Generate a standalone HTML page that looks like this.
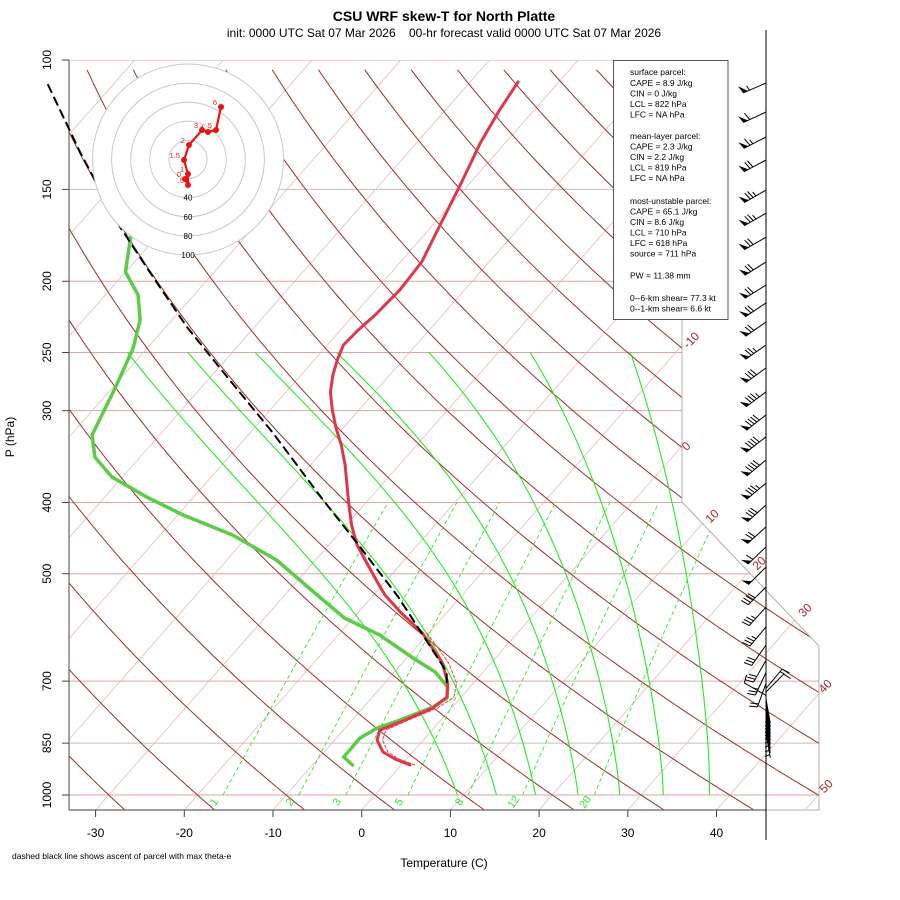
<!DOCTYPE html>
<html><head><meta charset="utf-8"><title>CSU WRF skew-T North Platte</title>
<style>
html,body{margin:0;padding:0;background:#fff;}
svg{display:block;font-family:"Liberation Sans",Arial,sans-serif;}
</style></head>
<body>
<svg id="chart" width="900" height="900" viewBox="0 0 900 900" xmlns="http://www.w3.org/2000/svg">
<rect x="0" y="0" width="900" height="900" fill="#fff"/>
<defs><clipPath id="plotclip"><polygon points="69,60 682,60 682,502 819,646 819,810 69,810"/></clipPath></defs>
<text x="444" y="21" font-size="14" font-weight="bold" text-anchor="middle">CSU WRF skew-T for North Platte</text>
<text x="444" y="37" font-size="12" text-anchor="middle" xml:space="preserve">init: 0000 UTC Sat 07 Mar 2026    00-hr forecast valid 0000 UTC Sat 07 Mar 2026</text>
<text x="0" y="0" font-size="12" text-anchor="middle" transform="translate(14,437) rotate(-90)">P (hPa)</text>
<text x="444" y="867" font-size="12" text-anchor="middle">Temperature (C)</text>
<text x="12" y="859" font-size="8.5">dashed black line shows ascent of parcel with max theta-e</text>
<g id="grid" clip-path="url(#plotclip)"></g>
<g id="axes"></g>
<g id="data"></g>
<g id="barbs"></g>
<g id="hodo"></g>
<g id="info"></g>
</svg>
<script>
// ---- sounding data ----
const tempP=[107.1,117,129.7,147.9,167.7,188.3,205.6,222.3,233,244.2,255.9,268.3,282.9,299.3,316.7,334.2,355.6,378.6,403.1,429.4,457.1,479,506.8,534.5,563.6,602.1,661.2,704.1,735.8,761.5,795.8,816,842,874,893.4,910.4];
const tempC=[-54.6,-53.9,-52.8,-50.9,-49.2,-47.6,-47.3,-47.6,-48.0,-48.2,-47.4,-46.4,-45.0,-43.0,-40.8,-38.5,-36.1,-33.9,-31.7,-29.4,-26.8,-24.4,-21.5,-18.7,-15.3,-10.7,-5.5,-2.9,-1.6,-2.1,-4.4,-5.9,-5.2,-3.35,-1.3,1.0];
const dewP=[174.1,194.3,208.8,225.8,246.5,276.8,323.7,346.9,369.3,393.2,415.9,443,479,542.9,574.3,605.9,651,680.3,713.1,737.9,759.2,790.7,810.9,836.6,868.5,887.8,910.4];
const dewC=[-82.9,-80.0,-76.3,-73.6,-71.6,-69.8,-67.6,-65.1,-61.2,-55.3,-49.4,-41.8,-34.4,-25.2,-21.0,-15.3,-9.3,-5.4,-2.5,-1.5,-2.2,-4.6,-6.4,-7.35,-7.3,-7.3,-5.5];
const virtP=[602,661,704,736,762,796,816,842,874,893,910];
const virtC=[-10.2,-4.8,-1.9,-0.8,-1.6,-4.0,-5.2,-4.6,-2.8,-0.9,1.5];
const parcelP=[108.1,133.8,168.7,194.9,230.9,270,321.7,396.9,454.2,537.8,680.3,711];
const parcelC=[-107.3,-96.9,-85.1,-77.1,-67.6,-58.1,-47.4,-35.1,-27.0,-17.0,-4.1,-2.7];
// ---- winds ----
const windP=[107.5,117.7,127.3,136.8,150.3,161.6,174.2,188.3,202.4,214,227.2,244.2,262.4,282.8,304,325.6,350,376.4,403.1,431.7,459.6,489.5,521.1,555,590.6,625,656,681,705,716,724,732,740,748,756,764,772,780,790,800,812,824];
const windSpd=[55,60,65,70,75,75,70,70,70,70,70,75,80,85,90,90,90,85,80,70,60,50,40,35,35,30,30,25,20,15,10,10,5,5,5,5,5,5,5,5,5,5];
const windDir=[247,245,243,242,240,240,240,238,238,236,235,235,234,233,232,232,230,230,228,228,226,225,225,222,220,215,210,205,200,40,45,300,170,170,170,170,170,170,170,170,170,170];
// ---- hodograph ----
const hodoU=[-3.1,0,0,-4.2,1.0,14.7,20.9,29.3,34.6];
const hodoV=[-20.4,-26.7,-15.2,-0.5,15.2,30.9,28.8,30.9,55.0];
const hodoLbl=["0",".5","1","1.5","2","3","4","5","6"];
const hodoRings=[20,40,60,80,100];
// ---- reference lines ----
const pLevels=[100,150,200,250,300,400,500,700,850,1000];
const tTicks=[-30,-20,-10,0,10,20,30,40];
const mixRatios=[1,2,3,5,8,12,20];
const moistT0=[9.3,13.7,18.1,22.9,27.6,32.5,37.7];
const moistT250=[-71.8,-65.0,-57.4,-48.2,-37.8,-26.4,-15.1];
const isoLabels=[-10,0,10,20,30,40,50];

const NS="http://www.w3.org/2000/svg";
function mk(tag,parent){const e=document.createElementNS(NS,tag);parent.appendChild(e);return e;}
function yP(p){return 60+735*Math.log10(p/100);}
function xT(T,p){return 361.7+8.87*T+0.88*(810-yP(p));}
function pOfY(y){return 100*Math.pow(10,(y-60)/735);}
function d(pts){return pts.map((q,i)=>(i?"L":"M")+q[0].toFixed(1)+","+q[1].toFixed(1)).join("");}

const grid=document.getElementById('grid');
const axes=document.getElementById('axes');
const dataG=document.getElementById('data');
const barbsG=document.getElementById('barbs');
const hodoG=document.getElementById('hodo');
const infoG=document.getElementById('info');

pLevels.forEach(p=>{
  const l=mk('line',grid);
  
  
  l.setAttribute('x1',69);l.setAttribute('x2',820);l.setAttribute('y1',yP(p));l.setAttribute('y2',yP(p));
  l.setAttribute('stroke',(p==150||p==850)?'#c8c0c0':'#dca6a6');l.setAttribute('stroke-width','1');
});
const pBot=pOfY(810);
for(let T=-120;T<=50;T+=10){
  const l=mk('line',grid);
  
  
  l.setAttribute('x1',xT(T,pBot));l.setAttribute('y1',810);l.setAttribute('x2',xT(T,100));l.setAttribute('y2',60);
  l.setAttribute('stroke','#e8baba');l.setAttribute('stroke-width','0.8');
}
for(let th=-30;th<=200;th+=10){
  const pts=[];
  for(let p=pBot;p>=100;p-=5){const T=(th+273.15)*Math.pow(p/1000,0.286)-273.15;pts.push([xT(T,p),yP(p)]);}
  const e=mk('path',grid);
  
  
  e.setAttribute('d',d(pts));e.setAttribute('fill','none');e.setAttribute('stroke','#a52a2a');e.setAttribute('stroke-width','1');
}
mixRatios.forEach(w=>{
  const pts=[];
  for(let p=1000;p>=400;p-=10){const e=w*p/(622+w);const ln=Math.log(e/6.112);const Td=243.5*ln/(17.67-ln);pts.push([xT(Td,p),yP(p)]);}
  const e=mk('path',grid);
  
  
  e.setAttribute('d',d(pts));e.setAttribute('fill','none');e.setAttribute('stroke','#22ee22');e.setAttribute('stroke-width','0.9');e.setAttribute('stroke-dasharray','4,3');
  const t=mk('text',grid);
  
  
  const lx=pts[0][0]-6, ly=804;
  t.setAttribute('x',lx);t.setAttribute('y',ly);t.setAttribute('font-size','11');t.setAttribute('fill','#22ee22');t.setAttribute('text-anchor','middle');
  t.setAttribute('transform','rotate(-55 '+lx+' '+ly+')');t.textContent=w;
});
moistT0.forEach((T0,k)=>{
  let T=T0+273.15;const raw=[];
  for(let p=1000;p>=250;p-=5){
    raw.push([p,T-273.15]);
    const es=6.112*Math.exp(17.67*(T-273.15)/(T-29.65));const rs=0.622*es/(p-es);const Lv=2.501e6;
    const dTdl=(287.04*T+Lv*rs)/(1005.7+Lv*Lv*rs*0.622/(287.04*T*T));
    T+=dTdl*Math.log((p-5)/p);
  }
  const corr=moistT250[k]-raw[raw.length-1][1];
  const pts=raw.map(q=>{const f=Math.log(1000/q[0])/Math.log(4);return [xT(q[1]+corr*Math.pow(f,1.3),q[0]),yP(q[0])];});
  const e=mk('path',grid);
  
  
  e.setAttribute('d',d(pts));e.setAttribute('fill','none');e.setAttribute('stroke','#22ee22');e.setAttribute('stroke-width','1.1');
});
{const e=mk('polyline',axes);


e.setAttribute('points','682,60 682,502 819,646 819,810 69,810');e.setAttribute('fill','none');e.setAttribute('stroke','#b0b0b0');e.setAttribute('stroke-width','1');}
const isoPos=[[694,343],[689,449],[715,519],[762,566],[808,613],[828,689],[829,789]];
isoLabels.forEach((v,i)=>{
  const t=mk('text',axes);
  
  
  t.setAttribute('x',isoPos[i][0]);t.setAttribute('y',isoPos[i][1]);t.setAttribute('font-size','12');t.setAttribute('fill','#b22222');t.setAttribute('text-anchor','middle');
  t.setAttribute('transform','rotate(-45 '+isoPos[i][0]+' '+isoPos[i][1]+')');t.textContent=v;
});
{const l=mk('line',axes);


l.setAttribute('x1',69);l.setAttribute('x2',69);l.setAttribute('y1',60);l.setAttribute('y2',810);l.setAttribute('stroke','#666');l.setAttribute('stroke-width','1.2');}
pLevels.forEach(p=>{
  const tk=mk('line',axes);
  
  
  tk.setAttribute('x1',62);tk.setAttribute('x2',69);tk.setAttribute('y1',yP(p));tk.setAttribute('y2',yP(p));tk.setAttribute('stroke','#444');
  const t=mk('text',axes);
  
  
  const y=yP(p);
  t.setAttribute('x',0);t.setAttribute('y',0);t.setAttribute('font-size','12');t.setAttribute('text-anchor','middle');
  t.setAttribute('transform','translate(51,'+y+') rotate(-90)');t.textContent=p;
});
{const l=mk('line',axes);


l.setAttribute('x1',69);l.setAttribute('x2',766);l.setAttribute('y1',810);l.setAttribute('y2',810);l.setAttribute('stroke','#666');l.setAttribute('stroke-width','1.2');}
tTicks.forEach(T=>{
  const x=xT(T,pBot);
  const tk=mk('line',axes);
  
  
  tk.setAttribute('x1',x);tk.setAttribute('x2',x);tk.setAttribute('y1',810);tk.setAttribute('y2',817);tk.setAttribute('stroke','#444');
  const t=mk('text',axes);
  
  
  t.setAttribute('x',x);t.setAttribute('y',837);t.setAttribute('font-size','12');t.setAttribute('text-anchor','middle');t.textContent=T;
});
function trace(P,C,name,color,w,dash){
  const e=mk('path',dataG);
  
  
  e.setAttribute('d',d(P.map((p,i)=>[xT(C[i],p),yP(p)])));
  e.setAttribute('fill','none');e.setAttribute('stroke',color);e.setAttribute('stroke-width',w);e.setAttribute('stroke-linejoin','round');e.setAttribute('stroke-linecap','round');
  if(dash)e.setAttribute('stroke-dasharray',dash);
}
trace(dewP,dewC,'dewpoint-line','#5ccc48',3.5);
trace(virtP,virtC,'virtual-temperature-line','#ee4444',1,'3,2');
trace(tempP,tempC,'temperature-line','#e0364c',3);
trace(parcelP,parcelC,'parcel-ascent-line','#000',2,'8,6');
{const l=mk('line',barbsG);


l.setAttribute('x1',766);l.setAttribute('x2',766);l.setAttribute('y1',30);l.setAttribute('y2',840);l.setAttribute('stroke','#000');l.setAttribute('stroke-width','1');}
windP.forEach((p,i)=>{
  const ax=766, ay=yP(p), dr=windDir[i]*Math.PI/180, L=25;
  const ux=Math.sin(dr), uy=-Math.cos(dr);
  const px=-uy, py=ux;
  const tx=ax+L*ux, ty=ay+L*uy;
  const g=mk('g',barbsG);
  
  
  let s='M'+ax+','+ay.toFixed(1)+'L'+tx.toFixed(1)+','+ty.toFixed(1);
  let sp=Math.round(windSpd[i]/5)*5, pos=0, fill='';
  while(sp>=50){
    const bx=tx-pos*ux, by=ty-pos*uy;
    fill+='M'+bx.toFixed(1)+','+by.toFixed(1)+'L'+(bx+8*px+2*ux).toFixed(1)+','+(by+8*py+2*uy).toFixed(1)+'L'+(bx-5*ux).toFixed(1)+','+(by-5*uy).toFixed(1)+'Z';
    pos+=7;sp-=50;
  }
  while(sp>=10){
    const bx=tx-pos*ux, by=ty-pos*uy;
    s+='M'+bx.toFixed(1)+','+by.toFixed(1)+'L'+(bx+8*px+2*ux).toFixed(1)+','+(by+8*py+2*uy).toFixed(1);
    pos+=3.2;sp-=10;
  }
  if(sp>=5){
    if(pos===0)pos=3.2;
    const bx=tx-pos*ux, by=ty-pos*uy;
    s+='M'+bx.toFixed(1)+','+by.toFixed(1)+'L'+(bx+5*px+1*ux).toFixed(1)+','+(by+5*py+1*uy).toFixed(1);
  }
  const e=mk('path',g);
  
  
  e.setAttribute('d',s);e.setAttribute('fill','none');e.setAttribute('stroke','#000');e.setAttribute('stroke-width','1');
  if(fill){const f=mk('path',g);
    
    
    f.setAttribute('d',fill);f.setAttribute('fill','#000');}
});
const hcx=188,hcy=159.5,hk=0.955;
{const bg=mk('circle',hodoG);


bg.setAttribute('cx',hcx);bg.setAttribute('cy',hcy);bg.setAttribute('r',100*hk);bg.setAttribute('fill','#fff');}
hodoRings.forEach(r=>{
  const c=mk('circle',hodoG);
  
  
  c.setAttribute('cx',hcx);c.setAttribute('cy',hcy);c.setAttribute('r',r*hk);c.setAttribute('fill','none');c.setAttribute('stroke','#c8c8c8');c.setAttribute('stroke-width','1');
  if(r>=40){const t=mk('text',hodoG);
    
    
    t.setAttribute('x',hcx);t.setAttribute('y',hcy+r*hk+3);t.setAttribute('font-size','8');t.setAttribute('text-anchor','middle');t.textContent=r;}
});
{const e=mk('path',hodoG);


e.setAttribute('d',d(hodoU.map((u,i)=>[hcx+u*hk,hcy-hodoV[i]*hk])));e.setAttribute('fill','none');e.setAttribute('stroke','#ee1111');e.setAttribute('stroke-width','2.2');}
hodoU.forEach((u,i)=>{
  const x=hcx+u*hk,y=hcy-hodoV[i]*hk;
  const c=mk('circle',hodoG);
  
  
  c.setAttribute('cx',x);c.setAttribute('cy',y);c.setAttribute('r',3);c.setAttribute('fill','#ee1111');
  const t=mk('text',hodoG);
  
  
  t.setAttribute('x',x-4);t.setAttribute('y',y-2);t.setAttribute('font-size','7.5');t.setAttribute('fill','#ee2222');t.setAttribute('text-anchor','end');t.textContent=hodoLbl[i];
});
{const r=mk('rect',infoG);


r.setAttribute('x',613.5);r.setAttribute('y',60.5);r.setAttribute('width',114.5);r.setAttribute('height',259);r.setAttribute('fill','#fff');r.setAttribute('stroke','#555');r.setAttribute('stroke-width','1');}
const infoLines=[["surface parcel:",75],["CAPE = 8.9 J/kg",86],["CIN = 0 J/kg",96.5],["LCL = 822 hPa",107],["LFC = NA hPa",117.5],
["mean-layer parcel:",139],["CAPE = 2.3 J/kg",149.5],["CIN = 2.2 J/kg",160],["LCL = 819 hPa",170.5],["LFC = NA hPa",181],
["most-unstable parcel:",204],["CAPE = 65.1 J/kg",214.5],["CIN = 8.6 J/kg",225],["LCL = 710 hPa",235.5],["LFC = 618 hPa",246],["source = 711 hPa",256.5],
["PW =  11.38 mm",278.5],["0--6-km shear= 77.3 kt",301],["0--1-km shear= 6.6 kt",311.5]];
infoLines.forEach(l=>{
  const t=mk('text',infoG);
  
  
  t.setAttribute('x',630);t.setAttribute('y',l[1]);t.setAttribute('font-size','8.5');t.setAttribute('xml:space','preserve');t.textContent=l[0];
});
</script>
</body></html>
